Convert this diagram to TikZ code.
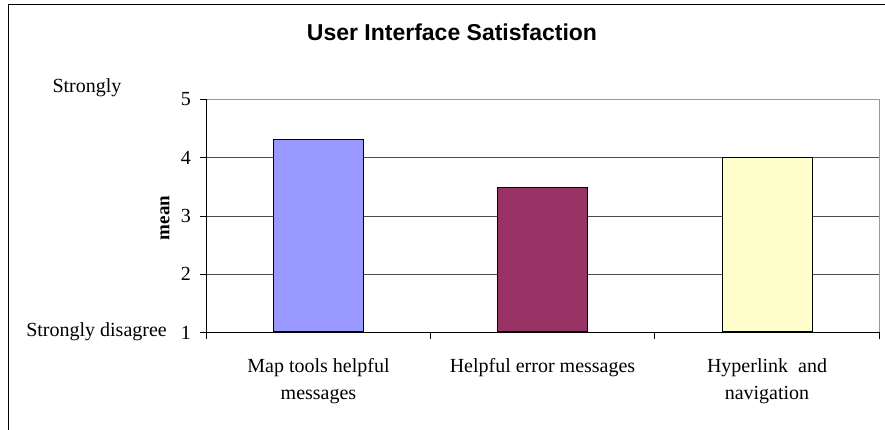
\documentclass[tikz,border=0pt]{standalone}
\usepackage{fontspec}
\setmainfont{Liberation Serif}
\newfontfamily\titlefont{Liberation Sans}
\usetikzlibrary{positioning}
\definecolor{barblue}{HTML}{9999FF}
\definecolor{barplum}{HTML}{993366}
\definecolor{barcream}{HTML}{FFFFCC}

\begin{document}
\begin{tikzpicture}[
  x=1pt, y=1pt,
  font=\fontsize{20}{27.5}\selectfont,
  bar/.style={draw=black, line width=1pt, minimum width=90pt, inner sep=0pt, anchor=south},
  grid/.style={draw=black!70, line width=0.8pt},
  ylab/.style={anchor=east, inner sep=0pt},
  catlab/.style={align=center, anchor=north, inner sep=0pt}
]
  \useasboundingbox (0,0) rectangle (885,430);
  \clip (0,0) rectangle (885,430);
  % outer frame of the chart
  \draw[line width=0.8pt] (8,-10) -- (8,426) -- (900,426);
  \node[font=\titlefont\bfseries\fontsize{23}{27}\selectfont] (title) at (452,398) {User Interface Satisfaction};

  % plot area: value v sits at 97.5+(v-1)*58.25
  \coordinate (ll) at (206,97.5);
  \coordinate (ur) at (879,330.5);
  \foreach \v in {2,3,4}
    \draw[grid] (206,97.5+\v*58.25-58.25) -- (879,97.5+\v*58.25-58.25);
  \draw[gray!80, line width=0.8pt] (206,330.5) -- (879,330.5) -- (879,97.5);

  % bars
  \node[bar, fill=barblue, minimum height=3.3*58.25pt] (maptools) at (318,97.5) {};
  \node[bar, fill=barplum, minimum height=2.48*58.25pt] (errmsg) at (542.5,97.5) {};
  \node[bar, fill=barcream, minimum height=3.0*58.25pt] (hyperlink) at (767,97.5) {};

  % axes and ticks
  \draw[line width=0.8pt] (ur |- ll) -- (ll) -- (ll |- ur);
  \foreach \v in {1,...,5} {
    \draw[line width=0.8pt] (200,97.5+\v*58.25-58.25) -- (206,97.5+\v*58.25-58.25);
    \node[ylab] (tick\v) at (191,97.5+\v*58.25-58.25) {\v};
  }
  \foreach \c in {0,1,2,3}
    \draw[line width=0.8pt] (206+\c*224.33,97.5) -- (206+\c*224.33,91);

  % axis texts
  \node[rotate=90, font=\bfseries\fontsize{19}{22}\selectfont] (mean) at (165,212) {mean};
  \node (agree) at (87,342) {Strongly};
  \node[ylab] (disagree) at (167,98) {Strongly disagree};
  \node[catlab] (lab1) at (318.5,72) {Map tools helpful\\messages};
  \node[catlab] (lab2) at (542.5,72) {Helpful error messages};
  \node[catlab] (lab3) at (767,72) {Hyperlink\ \ and\\navigation};
\end{tikzpicture}
\end{document}
